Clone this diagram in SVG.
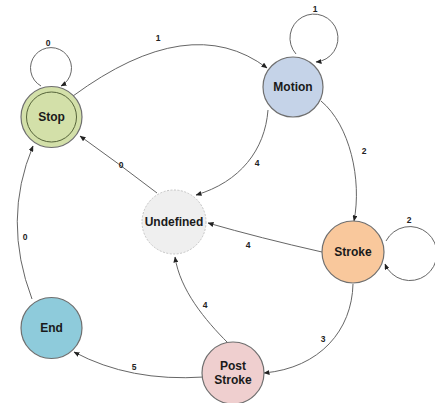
<svg xmlns="http://www.w3.org/2000/svg" width="435" height="403" viewBox="0 0 435 403">
<defs>
<marker id="arr" markerWidth="6" markerHeight="5" refX="5.5" refY="2.5" orient="auto" markerUnits="userSpaceOnUse">
<path d="M0,0 L6,2.5 L0,5 z" fill="#222"/>
</marker>
<style>
.node{stroke:#6f6f6f;stroke-width:1.2}
.lbl{font-family:"Liberation Sans",Arial,sans-serif;font-weight:bold;font-size:12px;fill:#1a1a1a;text-anchor:middle}
.el{font-family:"Liberation Sans",Arial,sans-serif;font-weight:bold;font-size:8.5px;fill:#222;text-anchor:middle}
.edge{fill:none;stroke:#666;stroke-width:1;marker-end:url(#arr)}
</style>
</defs>
<rect width="435" height="403" fill="#fff"/>
<g id="connectors">
<path class="edge" d="M41,86 A20.5,20.5 0 1 1 61,86"/>
<path class="edge" d="M296,54 A24,24 0 1 1 316,62"/>
<path class="edge" d="M386,241 A27,27 0 1 1 385,264"/>
<path class="edge" d="M73,96 Q190,10 267,68"/>
<path class="edge" d="M321,101 C350,125 362,180 354,221"/>
<path class="edge" d="M268,110 C265,150 240,182 196,195"/>
<path class="edge" d="M157,193 Q118,163 80,136"/>
<path class="edge" d="M322,252 Q260,238 208,223"/>
<path class="edge" d="M353,284 C352,330 320,368 264,373"/>
<path class="edge" d="M228,343 C205,320 180,290 175,257"/>
<path class="edge" d="M204,377 Q130,382 74,352"/>
<path class="edge" d="M32,299 Q2,220 33,146"/>
<text class="el" x="48" y="46">0</text>
<text class="el" x="315" y="12">1</text>
<text class="el" x="409" y="223">2</text>
<text class="el" x="158" y="41">1</text>
<text class="el" x="364" y="154">2</text>
<text class="el" x="257" y="166">4</text>
<text class="el" x="121" y="168">0</text>
<text class="el" x="248" y="248">4</text>
<text class="el" x="323" y="342">3</text>
<text class="el" x="205" y="308">4</text>
<text class="el" x="134" y="370">5</text>
<text class="el" x="25" y="240">0</text>
</g>
<g id="stop">
<circle class="node" cx="51.5" cy="117" r="30.5" fill="#d3e0a9" stroke="#7c8a5c"/>
<circle cx="51.5" cy="117" r="25" fill="none" stroke="#556339" stroke-width="1"/>
<text class="lbl" x="51.5" y="121">Stop</text>
</g>
<g id="motion">
<circle class="node" cx="293" cy="87" r="30" fill="#c5d3e8"/>
<text class="lbl" x="293" y="91">Motion</text>
</g>
<g id="undefined">
<circle cx="174" cy="222" r="32" fill="#efefef" stroke="#c4c4c4" stroke-width="1" stroke-dasharray="2,1.5"/>
<text class="lbl" x="174" y="226">Undefined</text>
</g>
<g id="stroke">
<circle class="node" cx="353" cy="252" r="31" fill="#f9c89c"/>
<text class="lbl" x="353" y="256">Stroke</text>
</g>
<g id="poststroke">
<circle class="node" cx="233" cy="373" r="31" fill="#efcfcf"/>
<text class="lbl" x="233" y="370">Post</text>
<text class="lbl" x="233" y="384">Stroke</text>
</g>
<g id="end">
<circle class="node" cx="51.5" cy="328" r="30.5" fill="#8ecbdb"/>
<text class="lbl" x="51.5" y="332">End</text>
</g>
</svg>
